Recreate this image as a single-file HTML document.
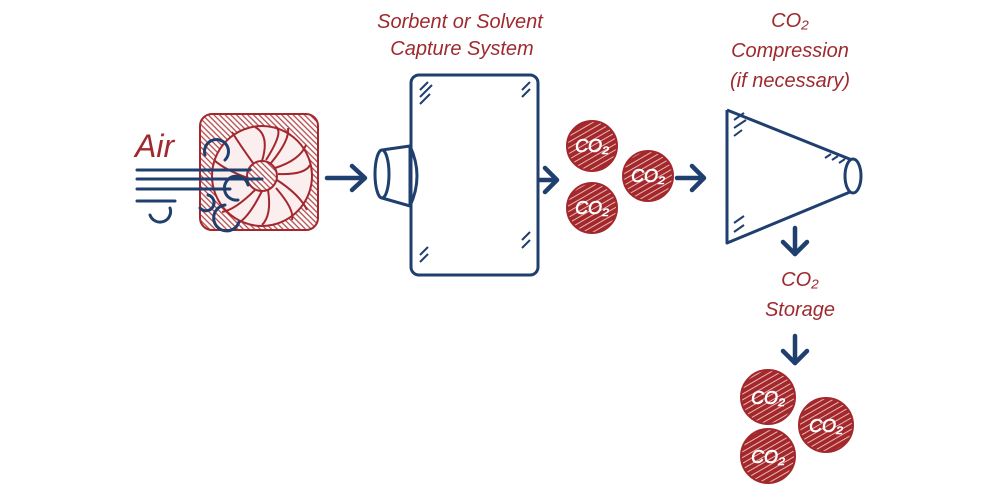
<!DOCTYPE html>
<html><head><style>
html,body{margin:0;padding:0;background:#fff;}
svg{display:block}
text{font-family:"Liberation Sans",sans-serif;}
</style></head><body>
<svg width="1000" height="497" viewBox="0 0 1000 497" xmlns="http://www.w3.org/2000/svg">
<defs>
<pattern id="h" width="5" height="5" patternUnits="userSpaceOnUse" patternTransform="rotate(-30)">
<rect width="5" height="5" fill="#a3282d"/><line x1="0" y1="2.5" x2="5" y2="2.5" stroke="#e8b9b0" stroke-width="1"/>
</pattern>
<pattern id="f" width="4" height="4" patternUnits="userSpaceOnUse" patternTransform="rotate(45)">
<rect width="4" height="4" fill="#fff"/><line x1="0" y1="2" x2="4" y2="2" stroke="#b4474b" stroke-width="1.3"/>
</pattern>
</defs>
<g fill="#9e2a2f" font-style="italic">
<text x="460" y="28" font-size="20" text-anchor="middle">Sorbent or Solvent</text>
<text x="462" y="55" font-size="20" text-anchor="middle">Capture System</text>
<text x="790" y="27" font-size="20" text-anchor="middle">CO₂</text>
<text x="790" y="57" font-size="20" text-anchor="middle">Compression</text>
<text x="790" y="87" font-size="20" text-anchor="middle">(if necessary)</text>
<text x="800" y="286" font-size="20" text-anchor="middle">CO₂</text>
<text x="800" y="316" font-size="20" text-anchor="middle">Storage</text>
<text x="135" y="157" font-size="32">Air</text>
</g>
<!-- fan -->
<g stroke="#a3282d" fill="none" stroke-width="2">
<rect x="200" y="114" width="118" height="116" rx="12" fill="url(#f)"/>
<circle cx="262" cy="176" r="50" fill="#fbeeee"/>
<circle cx="262" cy="176" r="15" fill="url(#f)"/>
<g stroke-width="2">
<path d="M262 161 Q270 135 255 127"/><path d="M275 168 Q300 160 306 145"/><path d="M277 180 Q300 195 307 210"/>
<path d="M268 190 Q272 215 262 225"/><path d="M255 190 Q235 210 222 212"/><path d="M248 178 Q225 170 214 160"/>
<path d="M253 163 Q240 145 232 132"/><path d="M271 163 Q290 140 288 128"/><path d="M276 188 Q295 210 292 220"/>
<path d="M266 160 Q285 130 275 127"/><path d="M278 174 Q305 175 310 165"/><path d="M262 191 Q250 215 240 222"/>
</g>
</g>
<!-- wind -->
<g stroke="#1f3f6e" fill="none" stroke-width="3" stroke-linecap="round">
<line x1="137" y1="170" x2="250" y2="170"/><line x1="137" y1="179" x2="262" y2="179"/><line x1="137" y1="189" x2="230" y2="189"/><line x1="137" y1="201" x2="175" y2="201"/>
<path d="M205 155 A12 12 0 1 1 225 160"/><path d="M238 200 A12 12 0 1 1 248 185"/><path d="M150 215 A7 7 0 1 0 170 208"/><path d="M200 208 A8 8 0 1 0 208 195"/>
<path d="M230 205 A13 13 0 1 0 244 222" transform="translate(-5,0)"/>
</g>
<!-- arrows -->
<g stroke="#1f3f6e" fill="none" stroke-width="4.5" stroke-linecap="round" stroke-linejoin="round">
<line x1="327" y1="178" x2="364" y2="178"/><path d="M352 166 L365 178 L352 190"/>
<line x1="540" y1="180" x2="556" y2="180"/><path d="M545 168 L557 180 L545 192"/>
<line x1="677" y1="178" x2="703" y2="178"/><path d="M692 166 L704 178 L692 190"/>
<line x1="795" y1="228" x2="795" y2="254"/><path d="M783 242 L795 254 L807 242"/>
<line x1="795" y1="336" x2="795" y2="363"/><path d="M783 351 L795 363 L807 351"/>
</g>
<!-- box -->
<g stroke="#1f3f6e" fill="none" stroke-width="3">
<rect x="411" y="75" width="127" height="200" rx="8" fill="#fff"/>
<path d="M382 150 L410 146 L410 206 L382 198" fill="#fff"/>
<ellipse cx="382" cy="174" rx="7" ry="24" fill="#fff"/>
<path d="M410 146 Q424 176 410 206"/>
<path d="M420 90 l8-8 M420 97 l12-12 M420 104 l10-10 M522 90 l8-8 M522 97 l8-8 M420 262 l8-8 M420 255 l8-8 M522 240 l8-8 M522 248 l8-8" stroke-width="2"/>
<!-- cone -->
<path d="M727 110 L727 243 L850 192 M727 110 L852 160" stroke-linejoin="round"/>
<ellipse cx="853" cy="176" rx="8" ry="17" fill="#fff"/>
<path d="M734 120 l10-7 M734 128 l12-8 M734 136 l8-6 M734 223 l10-7 M734 232 l10-7 M825 158 l6-4 M832 160 l6-4 M839 163 l6-4" stroke-width="2"/>
</g>
<!-- co2 balls -->
<g font-style="italic" font-size="18" fill="#fff" text-anchor="middle" stroke="#fff" stroke-width="0.6">
<g><circle cx="592" cy="146" r="25" fill="url(#h)" stroke="#a3282d" stroke-width="2"/><text x="592" y="152">CO₂</text></g>
<g><circle cx="592" cy="208" r="25" fill="url(#h)" stroke="#a3282d" stroke-width="2"/><text x="592" y="214">CO₂</text></g>
<g><circle cx="648" cy="176" r="25" fill="url(#h)" stroke="#a3282d" stroke-width="2"/><text x="648" y="182">CO₂</text></g>
<g><circle cx="768" cy="397" r="27" fill="url(#h)" stroke="#a3282d" stroke-width="2"/><text x="768" y="404">CO₂</text></g>
<g><circle cx="826" cy="425" r="27" fill="url(#h)" stroke="#a3282d" stroke-width="2"/><text x="826" y="432">CO₂</text></g>
<g><circle cx="768" cy="456" r="27" fill="url(#h)" stroke="#a3282d" stroke-width="2"/><text x="768" y="463">CO₂</text></g>
</g>
</svg>
</body></html>
